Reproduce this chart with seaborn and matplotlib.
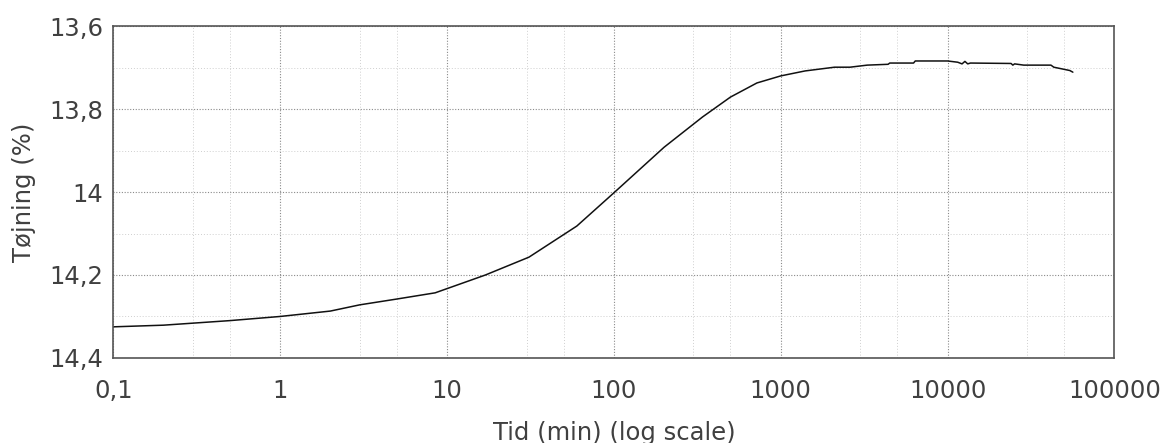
"""Creep curve: strain (%) vs. time on a log axis, inverted strain axis."""

import matplotlib
matplotlib.use("Agg")
import matplotlib.pyplot as plt
import matplotlib.ticker as mticker
import pandas as pd
import seaborn as sns

# ── Data ─────────────────────────────────────────────────────────────────────
TIME_MIN = [0.1, 0.2, 0.5, 1, 2, 3, 5, 8.5, 17, 31, 60, 100, 200, 340, 500,
            720, 1000, 1400, 2100, 2600, 3300, 4400, 4500, 6250, 6400, 10000,
            11500, 12200, 12700, 13200, 13700, 24000, 24600, 25200, 28600,
            41600, 43300, 49700, 54000, 56300]
STRAIN_PCT = [14.325, 14.321, 14.310, 14.300, 14.287, 14.272, 14.258, 14.243,
              14.200, 14.157, 14.082, 14.002, 13.892, 13.819, 13.771,
              13.737, 13.720, 13.708, 13.699, 13.699, 13.694, 13.692, 13.689,
              13.689, 13.684, 13.684,
              13.687, 13.691, 13.685, 13.691, 13.689, 13.690, 13.694, 13.691, 13.694,
              13.694, 13.699, 13.704, 13.707, 13.711]

X_TICKS = [0.1, 1, 10, 100, 1000, 10000, 100000]
Y_TICKS = [13.6, 13.8, 14.0, 14.2, 14.4]
Y_MINOR = [13.7, 13.9, 14.1, 14.3]

TEXT_COLOR = "#404040"
FONT_SIZE = 17.5


def comma(v, _pos=None):
    """Danish style decimal comma."""
    return f"{v:g}".replace(".", ",")


def main() -> None:
    sns.set_theme(style="white")
    plt.rcParams["font.family"] = ["DejaVu Sans"]

    df = pd.DataFrame({"tid": TIME_MIN, "toejning": STRAIN_PCT})

    fig = plt.figure(figsize=(11.67, 4.43), dpi=100)
    ax = fig.add_axes([0.097, 0.192, 0.858, 0.749])

    sns.lineplot(data=df, x="tid", y="toejning", ax=ax, color="#111111",
                 linewidth=1.1, estimator=None, sort=False)

    ax.set_xscale("log")
    ax.set_xlim(0.1, 100000)
    ax.set_ylim(14.4, 13.6)

    ax.xaxis.set_major_locator(mticker.FixedLocator(X_TICKS))
    ax.xaxis.set_major_formatter(mticker.FuncFormatter(comma))
    ax.xaxis.set_minor_locator(mticker.LogLocator(base=10, subs=[3, 5]))
    ax.xaxis.set_minor_formatter(mticker.NullFormatter())
    ax.yaxis.set_major_locator(mticker.FixedLocator(Y_TICKS))
    ax.yaxis.set_major_formatter(mticker.FuncFormatter(comma))
    ax.yaxis.set_minor_locator(mticker.FixedLocator(Y_MINOR))

    ax.grid(which="major", color="#8a8a8a", linestyle=(0, (1, 1.5)), linewidth=0.8)
    ax.grid(which="minor", color="#cfcfcf", linestyle=(0, (1, 2)), linewidth=0.7)
    ax.tick_params(which="both", length=0)
    ax.tick_params(axis="both", labelsize=FONT_SIZE, colors=TEXT_COLOR)
    ax.tick_params(axis="x", pad=15)
    ax.tick_params(axis="y", pad=7)

    for side in ax.spines.values():
        side.set_visible(True)
        side.set_color("#555555")
        side.set_linewidth(1.2)

    ax.set_xlabel("Tid (min) (log scale)", fontsize=FONT_SIZE, color=TEXT_COLOR, labelpad=13)
    ax.set_ylabel("Tøjning (%)", fontsize=FONT_SIZE, color=TEXT_COLOR, labelpad=10)

    fig.savefig("out.png", dpi=100)
    plt.close(fig)


if __name__ == "__main__":
    main()
